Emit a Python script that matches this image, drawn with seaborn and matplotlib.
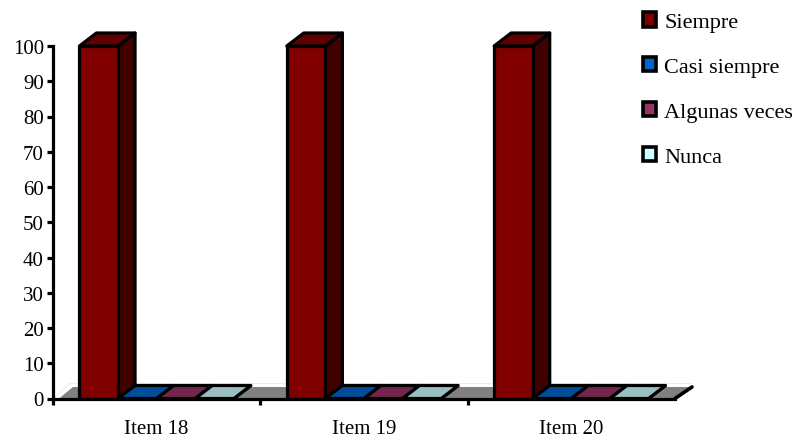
# -*- coding: utf-8 -*-
# 3D looking grouped bars, depth faces are built from the seaborn bar patches
import pandas as pd
import seaborn as sns
from matplotlib import pyplot as plt
from matplotlib.patches import Patch, Polygon

# data
items = ['Item 18', 'Item 19', 'Item 20']
siempre = [100, 100, 100]
casi_siempre = [0, 0, 0]
algunas_veces = [0, 0, 0]
nunca = [0, 0, 0]
yticks = list(range(0, 101, 10))

series = ['Siempre', 'Casi siempre', 'Algunas veces', 'Nunca']
colors = ['#800000', '#0066CC', '#993366', '#CCFFFF']

df = pd.DataFrame({'item': items, 'Siempre': siempre, 'Casi siempre': casi_siempre,
                   'Algunas veces': algunas_veces, 'Nunca': nunca})
df = df.melt(id_vars='item', var_name='serie', value_name='valor')

sns.set_style('white')
plt.rcParams['font.family'] = ['Liberation Serif', 'DejaVu Serif']

W, H = 796, 439
LEFT, RIGHT, BOTTOM, TOP = 53, 675, 399.5, 47
DX_PX, DY_PX = 17, 13
LW = 2.3


def shade(color, f):
    r, g, b = plt.matplotlib.colors.to_rgb(color)
    return (r * f, g * f, b * f)


fig = plt.figure(figsize=(W / 100, H / 100), dpi=100)
ax = fig.add_axes([LEFT / W, 1 - BOTTOM / H, (RIGHT - LEFT) / W, (BOTTOM - TOP) / H])

sns.barplot(data=df, x='item', y='valor', hue='serie', hue_order=series, palette=colors,
            saturation=1, width=0.745, gap=0, dodge=True, legend=False, ax=ax,
            edgecolor='black', linewidth=LW, zorder=3)

ax.set_xlim(-0.5, len(items) - 0.5)
ax.set_ylim(0, 100)
px_x = len(items) / (RIGHT - LEFT)
px_y = 100 / (BOTTOM - TOP)
dx = DX_PX * px_x
dy = DY_PX * px_y
end = len(items) - 0.5

# floor behind the bars, slightly inset from the pale wall line
floor_dy = 11.5 * px_y
ax.add_patch(Polygon([(-0.5 + 6 * px_x, 0), (end, 0), (end + dx, floor_dy), (-0.5 + dx + 3 * px_x, floor_dy)],
                     closed=True, facecolor='#808080', edgecolor='none', clip_on=False, zorder=1))
ax.plot([-0.5, -0.5 + dx, end + dx], [0, 15 * px_y, 15 * px_y], color='#ececec', lw=0.7,
        clip_on=False, zorder=0.5)
ax.plot([end, end + dx], [0, floor_dy], color='black', lw=LW + 0.3, clip_on=False, zorder=2)

# depth faces for each bar
for container, color in zip(ax.containers, colors):
    for bar in container:
        x0 = bar.get_x()
        x1 = x0 + bar.get_width()
        h = bar.get_height()
        ax.add_patch(Polygon([(x1, 0), (x1 + dx, dy), (x1 + dx, h + dy), (x1, h)], closed=True,
                             facecolor=shade(color, 0.5), edgecolor='black', lw=LW,
                             joinstyle='round', clip_on=False, zorder=2.5))
        ax.add_patch(Polygon([(x0, h), (x0 + dx, h + dy), (x1 + dx, h + dy), (x1, h)], closed=True,
                             facecolor=shade(color, 0.75), edgecolor='black', lw=LW,
                             joinstyle='round', clip_on=False, zorder=2.7))

# axes
sns.despine(ax=ax, top=True, right=True)
for side in ['left', 'bottom']:
    ax.spines[side].set_linewidth(LW)
    ax.spines[side].set_color('black')
    ax.spines[side].set_zorder(4)

ax.set_xlabel('')
ax.set_ylabel('')
ax.set_yticks(yticks)
ax.tick_params(axis='y', left=True, length=4, width=LW, color='black', labelsize=15, pad=2.5,
               labelcolor='black')
ax.set_xticks(range(len(items)))
ax.set_xticklabels(items)
ax.set_xticks([i - 0.5 for i in range(len(items))], minor=True)
ax.tick_params(axis='x', which='major', bottom=False, labelsize=15, pad=11, labelcolor='black')
ax.tick_params(axis='x', which='minor', bottom=True, length=4.5, width=LW, color='black')

# legend
handles = [Patch(facecolor=c, edgecolor='black', linewidth=LW + 0.3, label=s)
           for s, c in zip(series, colors)]
fig.legend(handles=handles, loc='upper left', bbox_to_anchor=(634 / W, 1 - 4.5 / H), frameon=False,
           fontsize=16, handlelength=0.6, handleheight=0.6, handletextpad=0.35,
           labelspacing=1.12, borderpad=0.4, borderaxespad=0, labelcolor='black')

plt.savefig('out.png', dpi=100)
